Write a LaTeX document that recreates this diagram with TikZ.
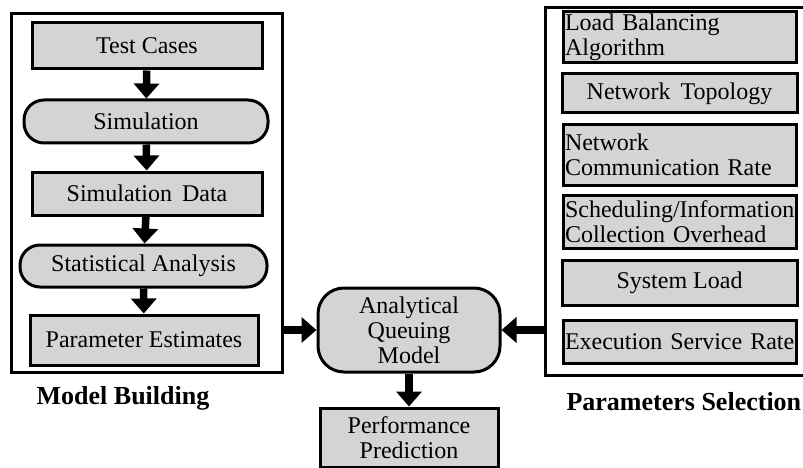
\documentclass[tikz,border=0pt]{standalone}
\usepackage{fontspec}
\setmainfont{Liberation Serif}
\usetikzlibrary{arrows.meta}

\tikzset{
  frame/.style={draw, line width=3pt, inner sep=0pt},
  stepbox/.style={draw, line width=3pt, fill=black!17, inner sep=2pt,
    font=\fontsize{24}{25}\selectfont, align=center},
  roundbox/.style={stepbox, rounded corners=20pt},
  flow/.style={line width=7.5pt, -{Triangle[width=25pt,length=15pt]}},
  title/.style={font=\fontsize{26}{28}\selectfont\bfseries}
}

\begin{document}
\begin{tikzpicture}[x=1pt,y=-1pt]
  \useasboundingbox (0,0) rectangle (803,468);
  % model building side
  \node[frame, minimum width=271pt, minimum height=358pt] (mb) at (146.5,193) {};
  \node[stepbox, minimum width=230pt, minimum height=46pt] (tc) at (147,46) {Test Cases};
  \node[roundbox, minimum width=244pt, minimum height=43pt] (sim) at (146,121.5) {Simulation};
  \node[stepbox, minimum width=230pt, minimum height=43pt] (sd) at (147,193.5) {Simulation\, Data};
  \node[roundbox, minimum width=247pt, minimum height=42pt] (sa) at (143.5,266) {Statistical Analysis};
  \node[stepbox, minimum width=228pt, minimum height=50pt] (pe) at (144,340) {Parameter Estimates};
  \draw[flow] (tc) -- (sim);
  \draw[flow] (sim) -- (sd);
  \draw[flow] (sd) -- (sa);
  \draw[flow] (sa) -- (pe);
  \node[title] (mbl) at (123,398) {Model Building};

  % parameters side
  \node[frame, minimum width=268pt, minimum height=367pt] (ps) at (679,191.5) {};
  \node[stepbox, text width=229pt, minimum height=50pt, align=left] (lb) at (679.5,37) {Load Balancing\\Algorithm};
  \node[stepbox, minimum width=235pt, minimum height=39pt] (nt) at (679.5,93.5) {Network\, Topology};
  \node[stepbox, text width=229pt, minimum height=60pt, align=left] (nc) at (679.5,155) {Network\\Communication Rate};
  \node[stepbox, text width=229pt, minimum height=53pt, align=left] (sch) at (679.5,221.5) {Scheduling/Information\\Collection Overhead};
  \node[stepbox, minimum width=235pt, minimum height=45pt] (sl) at (679.5,282.5) {System Load};
  \node[stepbox, text width=229pt, minimum height=43pt, align=left] (esr) at (679.5,341.5) {\mbox{Execution Service Rate}};
  \node[title, anchor=west] (psl) at (563,402) {Parameters Selection};

  % model and prediction
  \node[roundbox, rounded corners=26pt, minimum width=182pt, minimum height=84pt] (aqm) at (409,330) {Analytical\\Queuing\\Model};
  \node[stepbox, minimum width=178pt, minimum height=59pt] (pp) at (409,437.5) {Performance\\Prediction};
  \draw[flow] (mb.east |- aqm.west) -- (aqm.west);
  \draw[flow] (ps.west |- aqm.east) -- (aqm.east);
  \draw[flow] (aqm) -- (pp);
\end{tikzpicture}
\end{document}
